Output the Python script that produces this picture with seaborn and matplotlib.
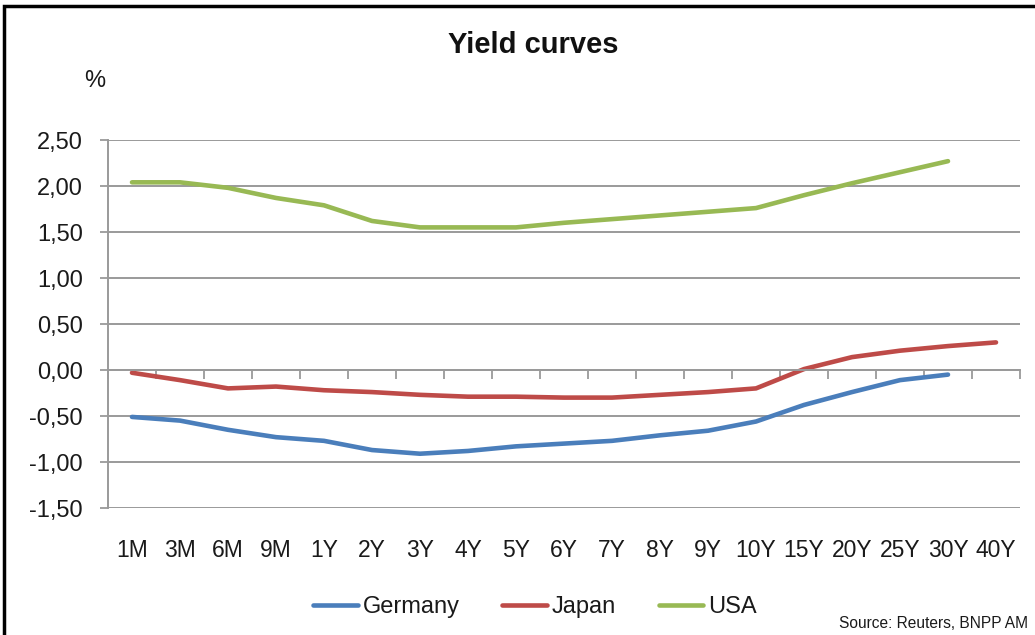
import numpy as np
import pandas as pd
import matplotlib
matplotlib.use("Agg")
import matplotlib.pyplot as plt
from matplotlib.lines import Line2D
from matplotlib.patches import Rectangle
from matplotlib.ticker import FixedLocator, FuncFormatter
import seaborn as sns

# Maturities and yields (%)
maturities = ["1M", "3M", "6M", "9M", "1Y", "2Y", "3Y", "4Y", "5Y", "6Y",
              "7Y", "8Y", "9Y", "10Y", "15Y", "20Y", "25Y", "30Y", "40Y"]
germany = [-0.51, -0.55, -0.65, -0.73, -0.77, -0.87, -0.91, -0.88, -0.83, -0.80,
           -0.77, -0.71, -0.66, -0.56, -0.38, -0.24, -0.11, -0.05, np.nan]
japan = [-0.03, -0.11, -0.20, -0.18, -0.22, -0.24, -0.27, -0.29, -0.29, -0.30,
         -0.30, -0.27, -0.24, -0.20, 0.01, 0.14, 0.21, 0.26, 0.30]
usa = [2.04, 2.04, 1.98, 1.87, 1.79, 1.62, 1.55, 1.55, 1.55, 1.60,
       1.64, 1.68, 1.72, 1.76, 1.90, 2.03, 2.15, 2.27, np.nan]
countries = ["Germany", "Japan", "USA"]
colors = ["#4A7EBB", "#BE4B48", "#98B954"]
y_ticks = [-1.5, -1.0, -0.5, 0.0, 0.5, 1.0, 1.5, 2.0, 2.5]

sns.set_theme(style="white")
plt.rcParams["font.family"] = ["Liberation Sans Narrow", "Liberation Sans", "DejaVu Sans"]

pos = np.arange(len(maturities))
df = pd.concat([
    pd.DataFrame({"pos": pos, "yield": vals, "country": name})
    for name, vals in zip(countries, [germany, japan, usa])
], ignore_index=True)

fig = plt.figure(figsize=(10.35, 6.35), dpi=100)
ax = fig.add_axes([108 / 1035, 0.2, 912 / 1035, 368 / 635])

sns.lineplot(data=df, x="pos", y="yield", hue="country", hue_order=countries,
             palette=colors, linewidth=3.3, legend=False, ax=ax, sort=False)

grid_col = "#9a9a9a"
ax.set_xlim(-0.5, len(maturities) - 0.5)
ax.set_ylim(-1.5, 2.5)
ax.set_yticks(y_ticks)
ax.yaxis.set_major_formatter(FuncFormatter(lambda v, _: f"{v:.2f}".replace(".", ",")))
ax.grid(axis="y", color=grid_col, linewidth=1.4)
ax.set_axisbelow(True)

# category axis crosses at zero, with marks between categories
ax.spines["bottom"].set_position(("data", 0))
ax.spines["bottom"].set_color(grid_col)
ax.spines["bottom"].set_linewidth(1.4)
ax.spines["left"].set_color(grid_col)
ax.spines["left"].set_linewidth(1.4)
ax.spines["top"].set_visible(False)
ax.spines["right"].set_visible(False)

ax.xaxis.set_major_locator(FixedLocator(pos))
ax.set_xticklabels(maturities)
ax.xaxis.set_minor_locator(FixedLocator(np.arange(len(maturities) + 1) - 0.5))
ax.tick_params(axis="x", which="major", length=0, pad=122, labelsize=16.5, labelcolor="#1a1a1a")
ax.tick_params(axis="x", which="minor", bottom=True, length=6.5, width=1.3,
               color=grid_col, direction="out")
ax.tick_params(axis="y", left=True, length=6, width=1.3, color=grid_col,
               pad=12, labelsize=17, labelcolor="#1a1a1a")
ax.set_xlabel("")
ax.set_ylabel("")

fig.text(533 / 1035, 1 - 45 / 635, "Yield curves", ha="center", va="center",
         fontsize=21, fontweight="bold", color="#111111")
fig.text(95 / 1035, 1 - 81 / 635, "%", ha="center", va="center",
         fontsize=17, color="#1a1a1a")

handles = [Line2D([], [], color=c, linewidth=3.3) for c in colors]
fig.legend(handles, countries, loc="center", bbox_to_anchor=(535 / 1035, 1 - 607 / 635),
           ncol=3, frameon=False, fontsize=17, handlelength=1.9, handletextpad=0.2,
           columnspacing=1.8, labelcolor="#1a1a1a")

fig.text(1028 / 1035, 1 - 623 / 635, "Source: Reuters, BNPP AM", ha="right", va="center",
         fontsize=11.2, color="#1a1a1a")

# outer frame
fig.patches.append(Rectangle((4 / 1035, -0.1), 1.2, 1.1 - 6 / 635, transform=fig.transFigure,
                             fill=False, edgecolor="black", linewidth=2.5, clip_on=False))

fig.savefig("out.png", dpi=100, facecolor="white")
